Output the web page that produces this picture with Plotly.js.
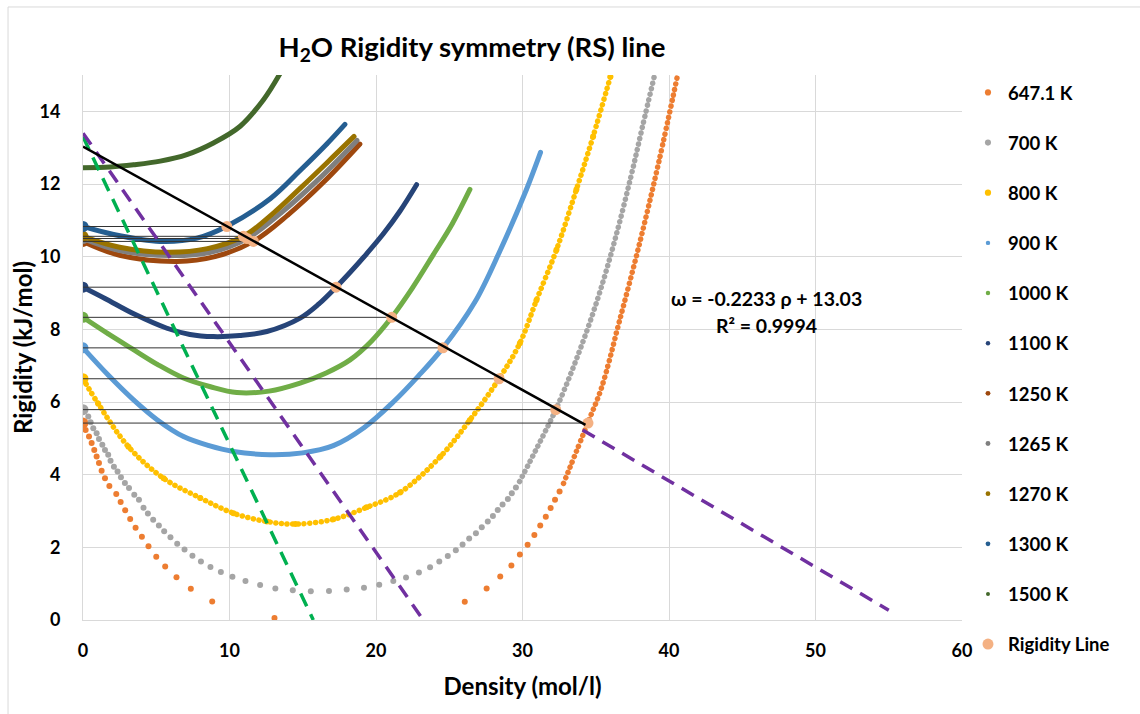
<!DOCTYPE html>
<html><head><meta charset="utf-8">
<script src="https://cdn.plot.ly/plotly-3.0.1.min.js"></script>
<style>
html,body{margin:0;padding:0;background:#fff;}
#chart{width:1140px;height:714px;}
.scatterlayer g[class*="traceround"] path.js-line{stroke-linecap:round !important;stroke-linejoin:round !important;}
</style></head><body><div id="chart"></div>
<script>
// ---------- DATA ----------
const temps = ['647.1 K','700 K','800 K','900 K','1000 K','1100 K','1250 K','1265 K','1270 K','1300 K','1500 K'];

// 647.1 K : individual dots (sparse part) and the densely sampled upper part
const rho_647_dots = [0, 0.18, 0.41, 0.59, 0.77, 0.93, 1.09, 1.27, 1.5, 1.8, 2.27, 2.57, 2.88, 3.22, 3.59, 4.02, 4.47, 5.0, 5.61, 6.38, 7.36, 8.82, 13.07,
  26.06, 27.55, 28.48, 29.24, 29.82, 30.35, 30.81, 31.21, 31.59, 31.92, 32.22, 32.53];
const w_647_dots = [5.42, 5.23, 5.05, 4.87, 4.68, 4.50, 4.32, 4.11, 3.90, 3.69, 3.47, 3.25, 3.02, 2.78, 2.54, 2.29, 2.03, 1.74, 1.47, 1.18, 0.86, 0.51, 0.055,
  0.50, 0.87, 1.20, 1.50, 1.80, 2.07, 2.34, 2.60, 2.84, 3.08, 3.31, 3.54];
const rho_647_dense = [32.8, 34.47, 35.4, 36.6, 38.0, 39.3, 40.61];
const w_647_dense = [3.76, 5.44, 6.4, 8.2, 10.38, 12.6, 15.04];

// 700 K
const rho_700_dots = [0, 0.36, 0.52, 0.70, 0.93, 1.09, 1.32, 1.50, 1.72, 1.88, 2.11, 2.36, 2.59, 2.86, 3.14, 3.5, 3.82, 4.13, 4.43, 4.79,
  5.18, 5.54, 5.97, 6.43, 6.93, 7.47, 8.05, 8.70, 9.41, 10.20, 11.09, 12.09, 13.13, 14.32, 15.55, 16.79, 18.0, 19.18, 20.22, 21.18,
  22.05, 22.93, 23.69, 24.32, 24.90, 25.45, 25.91, 26.36, 26.82, 27.22, 27.63, 27.98, 28.31, 28.64, 29.0, 29.27, 29.55];
const w_700_dots = [5.79, 5.60, 5.44, 5.28, 5.14, 4.98, 4.82, 4.68, 4.55, 4.38, 4.22, 4.09, 3.93, 3.77, 3.63, 3.45, 3.31, 3.09, 2.93, 2.76,
  2.60, 2.44, 2.28, 2.10, 1.94, 1.77, 1.61, 1.46, 1.32, 1.19, 1.07, 0.96, 0.87, 0.82, 0.79, 0.80, 0.84, 0.89, 0.97, 1.07,
  1.17, 1.31, 1.45, 1.61, 1.76, 1.92, 2.08, 2.24, 2.39, 2.55, 2.71, 2.86, 3.03, 3.18, 3.33, 3.49, 3.65];
const rho_700_dense = [29.8, 31.0, 32.27, 33.7, 35.1, 36.3, 37.4, 38.2, 39.0];
const w_700_dense = [3.81, 4.75, 5.79, 7.2, 8.8, 10.45, 12.2, 13.6, 14.97];

// 800 K (dense dotted)
const rho_800 = [0, 1.04, 3.1, 5.5, 8.0, 10.27, 12.55, 14.5, 17.09, 19.36, 21.64, 24.4, 26.4, 28.4, 29.82, 30.95, 32.32, 33.68, 34.82, 36.0];
const w_800 = [6.64, 5.95, 4.77, 3.9, 3.36, 2.94, 2.71, 2.64, 2.77, 3.10, 3.51, 4.5, 5.5, 6.64, 7.62, 8.8, 10.19, 11.85, 13.31, 14.95];

// 900 K
const rho_900 = [0, 1.7, 3.45, 5.1, 6.86, 8.6, 10.27, 12.77, 15.0, 17.09, 19.2, 21.18, 22.9, 24.57, 26.75, 28.45, 30.27, 31.23];
const w_900 = [7.49, 6.75, 6.06, 5.5, 5.05, 4.8, 4.64, 4.55, 4.6, 4.8, 5.3, 6.0, 6.72, 7.49, 8.75, 10.15, 11.85, 12.87];

// 1000 K
const rho_1000 = [0, 1.7, 3.45, 5.1, 6.86, 8.7, 10.5, 12.7, 14.82, 16.6, 18.23, 19.7, 21.07, 22.5, 23.9, 25.2, 26.41];
const w_1000 = [8.33, 7.88, 7.44, 7.03, 6.66, 6.42, 6.26, 6.3, 6.52, 6.8, 7.16, 7.68, 8.33, 9.15, 10.05, 10.9, 11.85];

// 1100 K
const rho_1100 = [0, 1.5, 3.5, 5.73, 7.3, 8.9, 10.7, 12.55, 14.82, 16.1, 17.27, 18.3, 19.36, 20.5, 21.63, 22.77];
const w_1100 = [9.16, 8.85, 8.42, 8.03, 7.86, 7.80, 7.83, 7.94, 8.31, 8.7, 9.16, 9.6, 10.08, 10.63, 11.25, 11.98];

// 1250 K
const rho_1250 = [0, 2.5, 6.41, 9.0, 11.63, 14.0, 16.5, 18.9];
const w_1250 = [10.42, 10.04, 9.87, 10.0, 10.42, 11.15, 12.08, 13.1];

// 1265 K
const rho_1265 = [0, 2.5, 5.9, 8.7, 11.2, 13.5, 16.0, 18.7];
const w_1265 = [10.50, 10.17, 10.03, 10.12, 10.50, 11.2, 12.1, 13.2];

// 1270 K
const rho_1270 = [0, 2.5, 5.73, 8.5, 10.95, 13.0, 14.82, 16.64, 18.5];
const w_1270 = [10.56, 10.26, 10.12, 10.22, 10.56, 11.2, 11.88, 12.58, 13.31];

// 1300 K
const rho_1300 = [0, 2.09, 5.27, 7.77, 9.82, 12.8, 14.82, 16.64, 17.88];
const w_1300 = [10.83, 10.61, 10.42, 10.51, 10.84, 11.6, 12.37, 13.1, 13.64];

// 1500 K
const rho_1500 = [0, 1.86, 3.45, 5.27, 7.09, 8.9, 10.73, 12.32, 13.45];
const w_1500 = [12.45, 12.47, 12.53, 12.63, 12.81, 13.13, 13.59, 14.32, 15.04];

// Rigidity line points (one per isotherm that crosses the RS line)
const rigid_temp = ['647.1 K','700 K','800 K','900 K','1000 K','1100 K','1250 K','1265 K','1270 K','1300 K'];
const rigid_rho = [34.47, 32.27, 28.4, 24.57, 21.07, 17.27, 11.63, 11.2, 10.95, 9.82];
const rigid_w = [5.42, 5.79, 6.64, 7.49, 8.33, 9.16, 10.42, 10.50, 10.56, 10.83];

// Linear fit  ω = -0.2233 ρ + 13.03 (drawn between its end points)
const trend_rho = [0, 34.3];
const trend_w = [13.03, 5.37];

// dashed guide lines
const green_rho = [0, 15.72];
const green_w = [13.3, 0];
const purple1_rho = [0, 23.23];
const purple1_w = [13.4, 0];
const purple2_rho = [34.1, 55.0];
const purple2_w = [5.23, 0.27];

const eq_text = 'ω = -0.2233 ρ + 13.03';
const r2_text = 'R² = 0.9994';

// ---------- STYLE ----------
const colors = {
  '647.1 K':'#ED7D31','700 K':'#A5A5A5','800 K':'#FFC000','900 K':'#5B9BD5','1000 K':'#70AD47',
  '1100 K':'#264478','1250 K':'#9E480E','1265 K':'#7F7F7F','1270 K':'#997300','1300 K':'#255E91','1500 K':'#43682B'
};
const FONT = 'Lato, "Open Sans", sans-serif';

const series = {
  '647.1 K': {dots:[rho_647_dots, w_647_dots], dense:[rho_647_dense, w_647_dense]},
  '700 K': {dots:[rho_700_dots, w_700_dots], dense:[rho_700_dense, w_700_dense]},
  '800 K': {dense:[rho_800, w_800]},
  '900 K': {solid:[rho_900, w_900]},
  '1000 K': {solid:[rho_1000, w_1000]},
  '1100 K': {solid:[rho_1100, w_1100]},
  '1250 K': {solid:[rho_1250, w_1250]},
  '1265 K': {solid:[rho_1265, w_1265]},
  '1270 K': {solid:[rho_1270, w_1270]},
  '1300 K': {solid:[rho_1300, w_1300]},
  '1500 K': {solid:[rho_1500, w_1500], nostart:true}
};

const traces = [];
temps.forEach((t, k) => {
  const s = series[t], c = colors[t];
  if (s.dense) {
    traces.push({x:s.dense[0], y:s.dense[1], type:'scatter', mode:'lines', uid:'rounddot'+k,
      line:{color:c, width:5.5, shape:'spline', smoothing:1, dash:'0.1px,5.6px'},
      showlegend:false, legendgroup:t, hoverinfo:'skip'});
  }
  if (s.solid) {
    traces.push({x:s.solid[0], y:s.solid[1], type:'scatter', mode:'lines', uid:'roundsol'+k,
      line:{color:c, width:5, shape:'spline', smoothing:1},
      showlegend:false, legendgroup:t, hoverinfo:'skip'});
  }
  const src = s.dots || s.dense || s.solid;
  const small = s.solid ? 4 : 6;
  traces.push({x:src[0], y:src[1], type:'scatter', mode:'markers', name:t, legendgroup:t,
    marker:{color:c, opacity:1, size:src[0].map((v,i)=> (i===0 && !s.nostart) ? 11 : small), line:{width:0}},
    hoverinfo:'skip'});
});

// horizontal connectors from ρ=0 to each rigidity point
const hx = [], hy = [];
rigid_rho.forEach((r,i)=>{ hx.push(0, r, null); hy.push(rigid_w[i], rigid_w[i], null); });
traces.push({x:hx, y:hy, type:'scatter', mode:'lines', line:{color:'#333333', width:1}, showlegend:false, hoverinfo:'skip'});

traces.push({x:rigid_rho, y:rigid_w, text:rigid_temp, type:'scatter', mode:'markers', name:'Rigidity Line',
  legendgroup:'rl', marker:{color:'#F4B183', size:11, line:{width:0}}, hoverinfo:'skip'});

traces.push({x:green_rho, y:green_w, type:'scatter', mode:'lines', line:{color:'#00B050', width:3.5, dash:'14px,9px'}, showlegend:false, hoverinfo:'skip'});
traces.push({x:purple1_rho, y:purple1_w, type:'scatter', mode:'lines', line:{color:'#7030A0', width:3.5, dash:'14px,9px'}, showlegend:false, hoverinfo:'skip'});
traces.push({x:purple2_rho, y:purple2_w, type:'scatter', mode:'lines', line:{color:'#7030A0', width:3.5, dash:'14px,9px'}, showlegend:false, hoverinfo:'skip'});
traces.push({x:trend_rho, y:trend_w, type:'scatter', mode:'lines', line:{color:'#000000', width:2.5}, showlegend:false, hoverinfo:'skip'});

const axisCommon = {
  showgrid:true, gridcolor:'#D9D9D9', gridwidth:1, zeroline:false,
  showline:true, linecolor:'#D9D9D9', linewidth:1, ticks:'', fixedrange:true,
  tickfont:{family:FONT, size:18, color:'#000', weight:'bold'}
};

const layout = {
  width:1140, height:714,
  margin:{l:83, r:178, t:75, b:94},
  paper_bgcolor:'#ffffff', plot_bgcolor:'#ffffff',
  font:{family:FONT, size:18, color:'#000', weight:'bold'},
  title:{text:'H<sub>2</sub>O Rigidity symmetry (RS) line', font:{family:FONT, size:27.5, color:'#000', weight:'bold'},
    xref:'paper', x:0.4425, xanchor:'center', yref:'container', y:1-47/714, yanchor:'middle'},
  xaxis:Object.assign({}, axisCommon, {range:[0,60], tick0:0, dtick:10, ticklabelstandoff:14,
    title:{text:'Density (mol/l)', font:{family:FONT, size:24, color:'#000', weight:'bold'}, standoff:18}}),
  yaxis:Object.assign({}, axisCommon, {range:[0,15], tick0:0, dtick:2, ticklabelstandoff:18,
    title:{text:'Rigidity (kJ/mol)', font:{family:FONT, size:24, color:'#000', weight:'bold'}, standoff:0}}),
  showlegend:true,
  legend:{x:1.0068, xanchor:'left', y:1.002, yanchor:'top', traceorder:'grouped', tracegroupgap:23.1, maxheight:700,
    font:{family:FONT, size:18.5, color:'#000', weight:'bold'}, bgcolor:'rgba(0,0,0,0)', borderwidth:0},
  annotations:[
    {xref:'x', yref:'y', x:46.66, y:8.84, text:eq_text, showarrow:false, xanchor:'center', yanchor:'middle',
      font:{family:FONT, size:19.5, color:'#000', weight:'bold'}},
    {xref:'x', yref:'y', x:46.66, y:8.1, text:r2_text, showarrow:false, xanchor:'center', yanchor:'middle',
      font:{family:FONT, size:19.5, color:'#000', weight:'bold'}}
  ],
  shapes:[
    {type:'rect', xref:'paper', yref:'paper', x0:-0.0853, x1:1.21, y0:-0.19, y1:1.1248,
      line:{color:'#D9D9D9', width:1}, fillcolor:'rgba(0,0,0,0)', layer:'below'}
  ]
};

Plotly.newPlot('chart', traces, layout, {staticPlot:true, displayModeBar:false});
</script></body></html>
